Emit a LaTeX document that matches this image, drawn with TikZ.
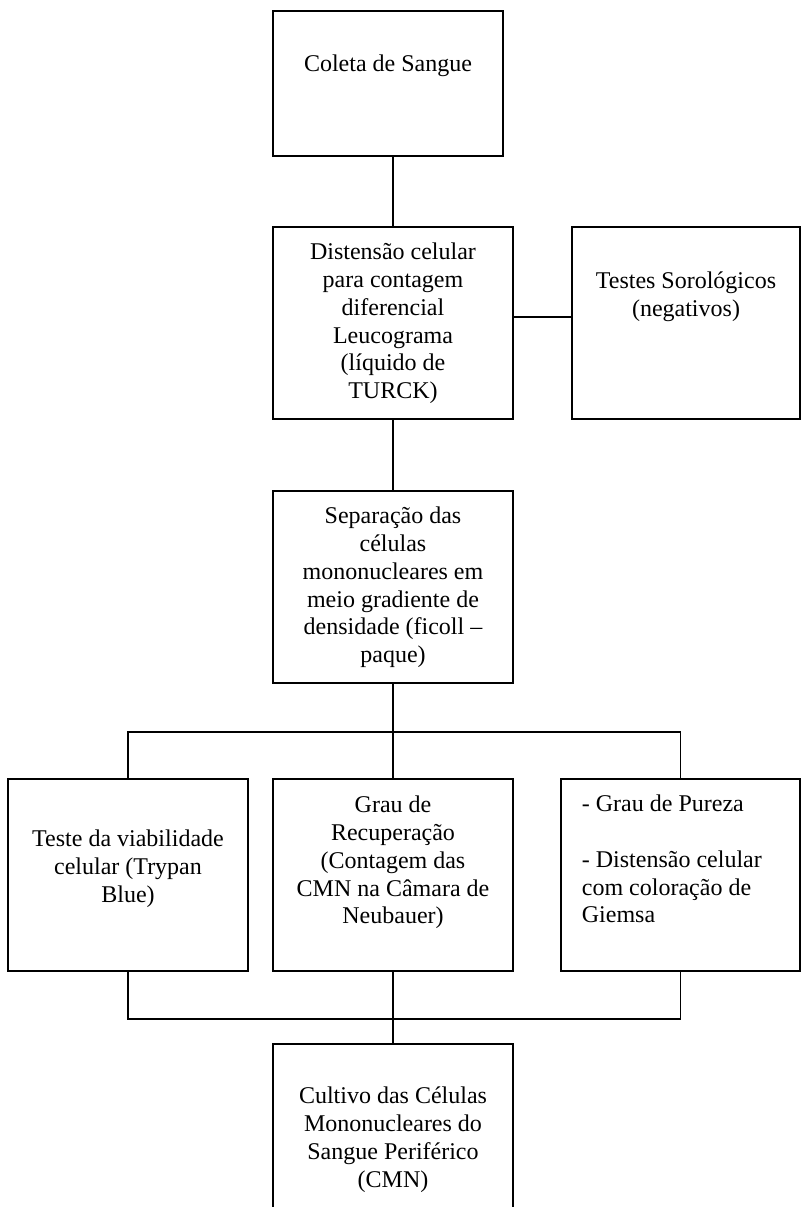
\documentclass[tikz,border=0pt]{standalone}
\usepackage{fontspec}
\setmainfont{Liberation Serif}
\begin{document}
\begin{tikzpicture}[x=0.5pt, y=-0.5pt, line width=0.9pt,
	box/.style={draw, rectangle, inner sep=0pt, outer sep=0pt, minimum width=120pt, minimum height=96pt},
	txt/.style={align=center, inner sep=0pt, anchor=north, font=\fontsize{12}{13.85}\selectfont}]
	\clip (0,0) rectangle (801,1207);

	% boxes
	\node (Coleta) [box, minimum width=115pt, minimum height=72.5pt] at (388,83.5) {};
	\node (Distensao) [box] at (393,323) {};
	\node (Testes) [box, minimum width=114pt] at (686,323) {};
	\node (Separacao) [box] at (393,587) {};
	\node (Viabilidade) [box] at (128,875) {};
	\node (Recuperacao) [box] at (393,875) {};
	\node (Pureza) [box, minimum width=119.5pt] at (680.5,875) {};
	\node (Cultivo) [box] at (393,1140) {};

	% texts
	\node (tColeta) [txt] at ([yshift=-20.3pt]Coleta.north) {\strut Coleta de Sangue};
	\node (tDistensao) [txt] at ([yshift=-6.3pt]Distensao.north) {\strut Distensão celular\\para contagem\\diferencial\\Leucograma\\(líquido de\\TURCK)};
	\node (tTestes) [txt] at ([yshift=-20.8pt]Testes.north) {\strut Testes Sorológicos\\(negativos)};
	\node (tSeparacao) [txt] at ([yshift=-6.3pt]Separacao.north) {\strut Separação das\\células\\mononucleares em\\meio gradiente de\\densidade (ficoll –\\paque)};
	\node (tViabilidade) [txt] at ([yshift=-23.8pt]Viabilidade.north) {\strut Teste da viabilidade\\celular (Trypan\\Blue)};
	\node (tRecuperacao) [txt] at ([yshift=-6.8pt]Recuperacao.north) {\strut Grau de\\Recuperação\\(Contagem das\\CMN na Câmara de\\Neubauer)};
	\node (tPureza) [txt, align=left, anchor=north west] at ([xshift=10pt, yshift=-6.3pt]Pureza.north west) {\strut - Grau de Pureza\\[13.85pt]- Distensão celular\\com coloração de\\Giemsa};
	\node (tCultivo) [txt] at ([yshift=-19.8pt]Cultivo.north) {\strut Cultivo das Células\\Mononucleares do\\Sangue Periférico\\(CMN)};

	% connectors
	\coordinate (split) at (393,732);
	\coordinate (join) at (393,1019);
	\draw (Distensao.north) -- (Distensao.north |- Coleta.south);
	\draw ([yshift=3pt]Distensao.east) -- ([yshift=3pt]Testes.west);
	\draw (Distensao.south) -- (Separacao.north);
	\draw (Separacao.south) -- (split);
	\draw (Viabilidade.north) -- (Viabilidade.north |- split) -- (Pureza.north |- split) -- (Pureza.north);
	\draw (split) -- (Recuperacao.north);
	\draw (Viabilidade.south) -- (Viabilidade.south |- join) -- (Pureza.south |- join) -- (Pureza.south);
	\draw (Recuperacao.south) -- (join) -- (Cultivo.north);
\end{tikzpicture}
\end{document}
